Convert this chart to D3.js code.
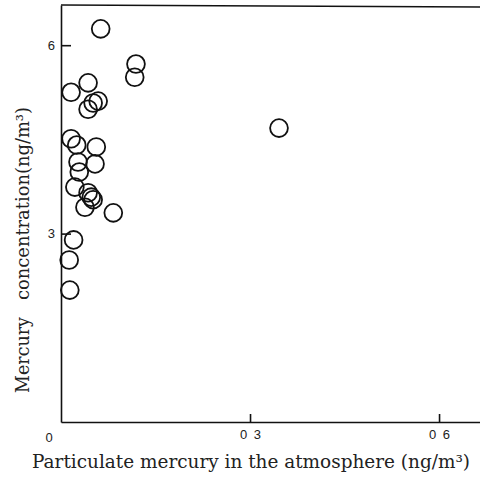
<!DOCTYPE html>
<html>
<head>
<meta charset="utf-8">
<script src="https://cdn.jsdelivr.net/npm/d3@7"></script>
<style>
  body { margin: 0; background: #fff; }
  .axis-title { font-family: "DejaVu Serif", serif; font-size: 18px; fill: #222; }
</style>
</head>
<body>
<div id="chart"></div>
<script>
// particulate mercury (ng/m3) vs mercury concentration (ng/m3)
var particulate = [0.063, 0.119, 0.117, 0.043, 0.016, 0.059, 0.051, 0.043,
  0.016, 0.025, 0.056, 0.027, 0.054, 0.029, 0.022, 0.043, 0.048, 0.051,
  0.038, 0.083, 0.346, 0.020, 0.013, 0.014];
var concentration = [6.26, 5.70, 5.49, 5.40, 5.25, 5.11, 5.08, 4.98,
  4.51, 4.41, 4.38, 4.14, 4.11, 3.98, 3.74, 3.65, 3.58, 3.54,
  3.42, 3.33, 4.68, 2.90, 2.58, 2.10];

var xTicks = [0.3, 0.6];
var xTickLabels = ["0 3", "0 6"];
var yTicks = [3, 6];
var yTickLabels = ["3", "6"];

var svgWidth = 480;
var svgHeight = 489;

var margin = { top: 5, right: 0, bottom: 67, left: 61 };
var width = svgWidth - margin.left - margin.right;
var height = svgHeight - margin.top - margin.bottom;

var svg = d3.select("#chart")
  .append("svg")
  .attr("width", svgWidth)
  .attr("height", svgHeight);

var chartGroup = svg.append("g")
  .attr("transform", `translate(${margin.left}, ${margin.top})`);

var xScale = d3.scaleLinear()
  .domain([0, 0.665])
  .range([0, width]);

var yScale = d3.scaleLinear()
  .domain([0, 6.64])
  .range([height, 0]);

// axes, ticks point inward
var bottomAxis = d3.axisBottom(xScale)
  .tickValues(xTicks)
  .tickFormat((d, i) => xTickLabels[i])
  .tickSizeInner(-8)
  .tickSizeOuter(0)
  .tickPadding(8);

var leftAxis = d3.axisLeft(yScale)
  .tickValues(yTicks)
  .tickFormat((d, i) => yTickLabels[i])
  .tickSizeInner(-10)
  .tickSizeOuter(0)
  .tickPadding(6);

var xAxis = chartGroup.append("g")
  .attr("transform", `translate(0, ${height})`)
  .call(bottomAxis);

var yAxis = chartGroup.append("g")
  .call(leftAxis);

chartGroup.selectAll(".domain, .tick line")
  .attr("stroke", "#111")
  .attr("stroke-width", 1.6);

chartGroup.selectAll(".tick text")
  .attr("fill", "#222")
  .style("font-family", "Liberation Sans, Arial, sans-serif")
  .style("font-size", "13px")
  .style("word-spacing", "3px");

// top frame line
chartGroup.append("line")
  .attr("x1", 0)
  .attr("x2", width)
  .attr("y1", 0)
  .attr("y2", 2)
  .attr("stroke", "#111")
  .attr("stroke-width", 1.6);

// corner zero
chartGroup.append("text")
  .attr("x", -12)
  .attr("y", height + 20)
  .attr("text-anchor", "middle")
  .style("font-family", "Liberation Sans, Arial, sans-serif")
  .style("font-size", "13px")
  .attr("fill", "#222")
  .text("0");

// circles
chartGroup.selectAll("circle")
  .data(particulate)
  .enter()
  .append("circle")
  .attr("cx", d => xScale(d))
  .attr("cy", (d, i) => yScale(concentration[i]))
  .attr("r", 8.9)
  .attr("fill", "none")
  .attr("stroke", "#111")
  .attr("stroke-width", 1.8);

// axis titles
svg.append("text")
  .attr("class", "axis-title")
  .attr("x", 251)
  .attr("y", 468)
  .attr("text-anchor", "middle")
  .attr("textLength", 438)
  .attr("lengthAdjust", "spacingAndGlyphs")
  .text("Particulate mercury in the atmosphere (ng/m³)");

svg.append("text")
  .attr("class", "axis-title")
  .attr("transform", "translate(29, 393) rotate(-90)")
  .attr("text-anchor", "start")
  .attr("textLength", 76)
  .attr("lengthAdjust", "spacingAndGlyphs")
  .text("Mercury");

svg.append("text")
  .attr("class", "axis-title")
  .attr("transform", "translate(29, 300) rotate(-90)")
  .attr("text-anchor", "start")
  .attr("textLength", 193)
  .attr("lengthAdjust", "spacingAndGlyphs")
  .text("concentration(ng/m³)");
</script>
</body>
</html>
